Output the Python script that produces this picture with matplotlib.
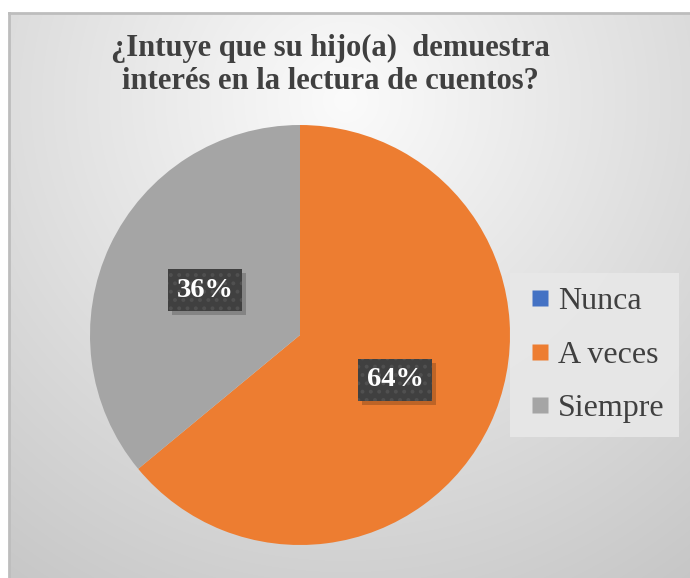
import numpy as np
import matplotlib
matplotlib.use("Agg")
import matplotlib.pyplot as plt
from matplotlib.lines import Line2D
from matplotlib.patches import Rectangle

# Datos
categorias = ["Nunca", "A veces", "Siempre"]
valores = [0, 64, 36]
colores = ["#4472C4", "#ED7D31", "#A5A5A5"]
titulo = "¿Intuye que su hijo(a)  demuestra\ninterés en la lectura de cuentos?"

plt.rcParams["font.family"] = ["Liberation Serif", "DejaVu Serif"]
plt.rcParams["hatch.linewidth"] = 1.6

W, H = 690, 578
fig = plt.figure(figsize=(W / 100, H / 100), dpi=100)
fig.patch.set_facecolor("white")

# Fondo con degradado radial
bg = fig.add_axes([9 / W, 0, 1 - 9 / W, 1 - 13 / H])
yy, xx = np.mgrid[13:H, 9:W]
d = np.sqrt((xx - 345.0) ** 2 + (yy - 100.0) ** 2) / 584.0
gris = (251 - 52 * np.clip(d, 0, 1.1)) / 255.0
bg.imshow(np.dstack([gris, gris, gris]), aspect="auto", extent=[0, 1, 0, 1], zorder=0)
bg.set_xlim(0, 1)
bg.set_ylim(0, 1)
bg.set_xticks([])
bg.set_yticks([])
for lado in ["right", "bottom"]:
    bg.spines[lado].set_visible(False)
for lado in ["top", "left"]:
    bg.spines[lado].set_color("#bdbdbd")
    bg.spines[lado].set_linewidth(2)

# Pastel
ax = fig.add_axes([90 / W, 1 - 545 / H, 420 / W, 420 / H])
ax.set_facecolor("none")
wedges, textos = ax.pie(valores, colors=colores, startangle=90, counterclock=False,
                        radius=1, wedgeprops=dict(linewidth=0))
ax.set_xlim(-1, 1)
ax.set_ylim(-1, 1)
ax.set_aspect("equal")

# Etiquetas de porcentaje
total = sum(valores)
etiquetas = []
for w, v in zip(wedges, valores):
    if v == 0:
        continue
    ang = np.radians((w.theta1 + w.theta2) / 2)
    x, y = 0.5 * np.cos(ang), 0.5 * np.sin(ang)
    t = ax.text(x, y, f"{round(100 * v / total)}%", ha="center", va="center",
                fontsize=20.5, fontweight="bold", color="white", zorder=5,
                bbox=dict(boxstyle="square,pad=0.3", facecolor="#404040", edgecolor="#505050",
                          linewidth=0, hatch=".."))
    etiquetas.append(t)

# Sombra de las etiquetas
fig.canvas.draw()
for t in etiquetas:
    bb = t.get_bbox_patch().get_window_extent()
    ax.add_patch(Rectangle((bb.x0 + 4, bb.y0 - 4), bb.width, bb.height,
                           transform=None, facecolor="black", alpha=0.2,
                           edgecolor="none", zorder=3))

# Título
fig.text(330 / W, 1 - 65 / H, titulo, ha="center", va="center", fontsize=22,
         fontweight="bold", color="#404040", linespacing=1.2)

# Leyenda
handles = [Line2D([], [], linestyle="none", marker="s", markersize=11,
                  markerfacecolor=c, markeredgecolor="none") for c in colores]
leg = fig.legend(handles, categorias, loc="center left", bbox_to_anchor=(510 / W, 1 - 355 / H),
                 fontsize=23, frameon=True, fancybox=False, handlelength=1.0,
                 handletextpad=0.05, labelspacing=0.75, borderpad=0.45, borderaxespad=0)
leg.get_frame().set_facecolor("#e8e8e8")
leg.get_frame().set_alpha(0.9)
leg.get_frame().set_edgecolor("none")
for t in leg.get_texts():
    t.set_color("#404040")

fig.savefig("out.png", dpi=100)
